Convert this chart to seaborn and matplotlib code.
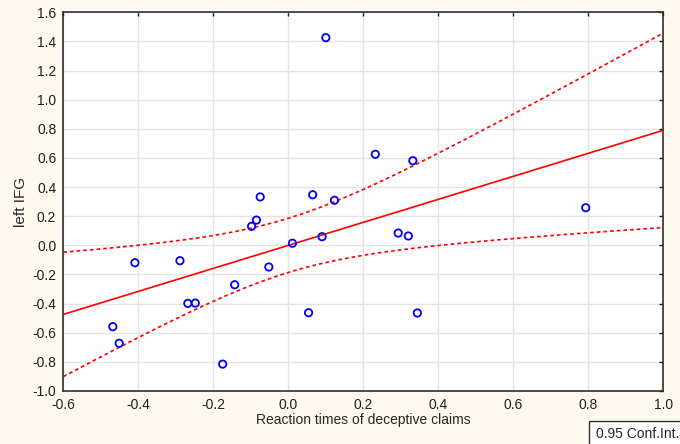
import numpy as np
import pandas as pd
import seaborn as sns
import matplotlib.pyplot as plt

# reaction times vs left IFG values
rt = [0.100, 0.232, 0.332, -0.075, 0.065, 0.123, -0.085, -0.098, 0.011, 0.090,
      0.293, 0.320, 0.793, -0.409, -0.289, -0.268, -0.248, -0.143, -0.468, -0.451,
      -0.175, -0.052, 0.054, 0.344]
ifg = [1.426, 0.625, 0.581, 0.332, 0.347, 0.309, 0.173, 0.130, 0.014, 0.059,
       0.084, 0.064, 0.258, -0.120, -0.106, -0.399, -0.397, -0.271, -0.559, -0.673,
       -0.816, -0.149, -0.463, -0.465]
xticks = [-0.6, -0.4, -0.2, 0.0, 0.2, 0.4, 0.6, 0.8, 1.0]
yticks = [-1.0, -0.8, -0.6, -0.4, -0.2, 0.0, 0.2, 0.4, 0.6, 0.8, 1.0, 1.2, 1.4, 1.6]

df = pd.DataFrame({'rt': rt, 'ifg': ifg})

# linear fit and 95% confidence band of the mean
x = df['rt'].values
y = df['ifg'].values
n = len(x)
slope, intercept = np.polyfit(x, y, 1)
resid = y - (slope * x + intercept)
s = np.sqrt(np.sum(resid ** 2) / (n - 2))
sxx = np.sum((x - x.mean()) ** 2)
t_crit = 2.0739  # t(0.975, df=22)
xs = np.linspace(-0.6, 1.0, 200)
fit = slope * xs + intercept
half = t_crit * s * np.sqrt(1 / n + (xs - x.mean()) ** 2 / sxx)

sns.set_style('white')
plt.rcParams['font.family'] = ['Liberation Sans', 'DejaVu Sans']

fig = plt.figure(figsize=(6.8, 4.44), dpi=100, facecolor='#fffaf0')
ax = fig.add_axes([0.0931, 0.1196, 0.8824, 0.8527])
ax.set_facecolor('white')

ax.plot(xs, fit, color='#ff0000', lw=1.2, zorder=3)
ax.plot(xs, fit + half, color='#ff0000', lw=1.2, ls=(0, (2.2, 1.8)), zorder=3)
ax.plot(xs, fit - half, color='#ff0000', lw=1.2, ls=(0, (2.2, 1.8)), zorder=3)
sns.scatterplot(data=df, x='rt', y='ifg', ax=ax, marker='o', s=28,
                facecolor='none', edgecolor='#0000ff', linewidth=1.3, zorder=4)

ax.set_xlim(-0.6, 1.0)
ax.set_ylim(-1.0, 1.6)
ax.set_xticks(xticks)
ax.set_yticks(yticks)
ax.set_xticklabels([f'{v:.1f}' for v in xticks])
ax.set_yticklabels([f'{v:.1f}' for v in yticks])
ax.grid(True, color='#e4e4e4', lw=1)
ax.tick_params(direction='in', length=3, width=1, labelsize=10, pad=5,
               top=True, right=True, colors='#202020')
for sp in ax.spines.values():
    sp.set_color('#303030')
    sp.set_linewidth(1.2)

ax.set_xlabel('Reaction times of deceptive claims', fontsize=10, labelpad=1)
ax.set_ylabel('left IFG', fontsize=11, labelpad=3)

fig.text(0.9985, 0.006, '0.95 Conf.Int.', ha='right', va='bottom', fontsize=10,
         bbox=dict(boxstyle='square,pad=0.45', facecolor='white', edgecolor='#303030', lw=1))

plt.savefig('out.png', dpi=100, facecolor=fig.get_facecolor())
plt.close()
